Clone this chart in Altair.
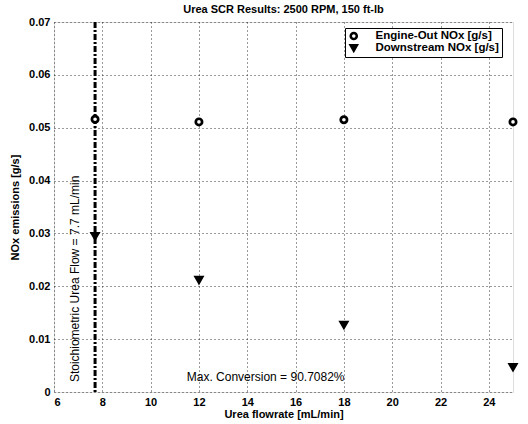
import altair as alt
import pandas as pd

flow = [7.7, 12, 18, 25]
engine_out = [0.0516, 0.0511, 0.0515, 0.0511]
downstream = [0.0295, 0.0212, 0.0127, 0.0047]
series_names = ["Engine-Out NOx [g/s]", "Downstream NOx [g/s]"]
stoich_flow = [7.7]
x_ticks = [6, 8, 10, 12, 14, 16, 18, 20, 22, 24]
y_ticks = [0, 0.01, 0.02, 0.03, 0.04, 0.05, 0.06, 0.07]

notes = pd.DataFrame({
    "flow": [6.87, 14.76],
    "nox": [0.0214, 0.0028],
    "label": ["Stoichiometric Urea Flow = 7.7 mL/min", "Max. Conversion = 90.7082%"],
    "angle": [270, 0],
})

df = pd.DataFrame({
    "flow": flow * 2,
    "nox": engine_out + downstream,
    "series": [series_names[0]] * 4 + [series_names[1]] * 4,
})

FONT = "Liberation Sans"

xs = alt.Scale(domain=[6, 25], nice=False, zero=False)
ys = alt.Scale(domain=[0, 0.07], nice=False)

common_axis = dict(
    labelFont=FONT, labelFontSize=11, labelFontWeight="bold", labelColor="black",
    titleFont=FONT, titleFontSize=11, titleFontWeight="bold", titleColor="black",
    ticks=False, domain=False,
    grid=True, gridColor="#222", gridDash=[1, 3], gridOpacity=0.9, gridWidth=1,
)

x_axis = alt.Axis(values=x_ticks, title="Urea flowrate [mL/min]", format="d",
                  labelPadding=4, titlePadding=1, **common_axis)
y_axis = alt.Axis(values=y_ticks, title="NOx emissions [g/s]",
                  labelExpr="datum.value == 0 ? '0' : format(datum.value, '.2f')",
                  labelPadding=4, titlePadding=8, **common_axis)

leg = dict(title=None, orient="none", legendX=291, legendY=6,
           fillColor="white", strokeColor="black", padding=3,
           rowPadding=0, clipHeight=10, labelFontSize=11.5, labelFont=FONT,
           labelFontWeight="bold", symbolSize=36, symbolStrokeWidth=2.6,
           symbolStrokeColor="black", labelOffset=16, labelColor="black")

points = alt.Chart(df).mark_point(filled=False, opacity=1, strokeWidth=2.7, size=40).encode(
    x=alt.X("flow:Q", scale=xs, axis=x_axis),
    y=alt.Y("nox:Q", scale=ys, axis=y_axis),
    shape=alt.Shape("series:N", scale=alt.Scale(domain=series_names, range=["circle", "triangle-down"]),
                    legend=alt.Legend(**leg)),
    fill=alt.Fill("series:N", scale=alt.Scale(domain=series_names, range=["white", "black"]),
                  legend=alt.Legend(**leg)),
    stroke=alt.Stroke("series:N", scale=alt.Scale(domain=series_names, range=["black", "black"]),
                      legend=alt.Legend(**leg)),
)

rule = alt.Chart(pd.DataFrame({"flow": stoich_flow})).mark_rule(
    color="black", strokeWidth=3, strokeDash=[6, 2, 2, 2]
).encode(x=alt.X("flow:Q", scale=xs))

text = alt.Chart(notes).mark_text(font=FONT, fontSize=12, color="black").encode(
    x=alt.X("flow:Q", scale=xs),
    y=alt.Y("nox:Q", scale=ys),
    text="label:N",
    angle=alt.Angle("angle:Q", scale=None),
)

chart = alt.layer(rule, text, points).properties(
    width=459, height=370,
    title=alt.TitleParams("Urea SCR Results: 2500 RPM, 150 ft-lb", font=FONT, fontSize=11,
                          fontWeight="bold", color="black", offset=1),
    autosize=alt.AutoSizeParams(type="none"),
    padding={"left": 54, "top": 22, "right": 15, "bottom": 32},
).configure_view(stroke="black", strokeWidth=1.2).configure(background="white")

chart.save("out.html", embed_options={"renderer": "svg", "actions": False})
